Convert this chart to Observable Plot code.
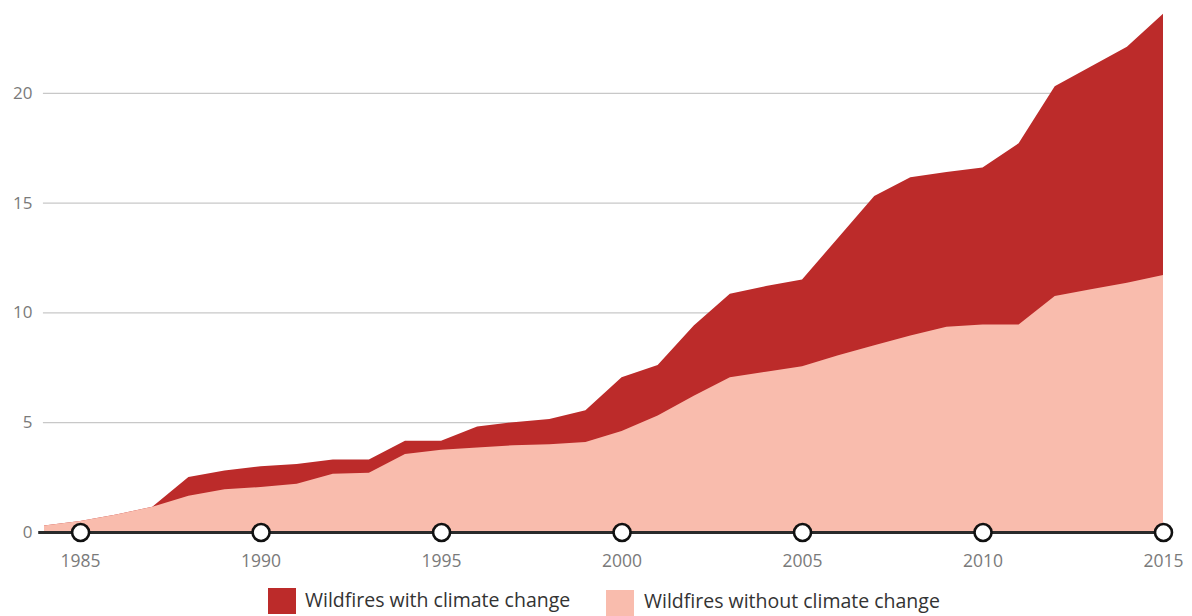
<!DOCTYPE html>
<html>
<head>
<meta charset="utf-8">
<script src="https://cdn.jsdelivr.net/npm/d3@7"></script>
<script src="https://cdn.jsdelivr.net/npm/@observablehq/plot@0.6"></script>
<style>
  html, body { margin: 0; padding: 0; background: #fff; }
  #wrap { position: relative; width: 1192px; height: 616px; overflow: hidden; font-family: "Open Sans", sans-serif; }
  .sw { position: absolute; width: 28px; height: 26px; }
  .lt { position: absolute; font-size: 19.5px; color: #333; white-space: nowrap; line-height: 19px; }
</style>
</head>
<body>
<div id="wrap">
  <div id="chart"></div>
  <div class="sw" style="left:268px; top:588px; background:#BC2B2A;"></div>
  <div class="lt" style="left:305px; top:590px;">Wildfires with climate change</div>
  <div class="sw" style="left:606px; top:590px; background:#F9BCAD;"></div>
  <div class="lt" style="left:644px; top:591px;">Wildfires without climate change</div>
</div>
<script>
const years = [1984,1985,1986,1987,1988,1989,1990,1991,1992,1993,1994,1995,1996,1997,1998,1999,2000,2001,2002,2003,2004,2005,2006,2007,2008,2009,2010,2011,2012,2013,2014,2015];
const withoutClimate = [0.3,0.5,0.8,1.15,1.65,1.95,2.05,2.2,2.65,2.7,3.55,3.75,3.85,3.95,4.0,4.1,4.6,5.3,6.2,7.05,7.3,7.55,8.05,8.5,8.95,9.35,9.45,9.45,10.75,11.05,11.35,11.7];
const withClimate = [0.3,0.5,0.8,1.15,2.5,2.8,3.0,3.1,3.3,3.3,4.15,4.15,4.8,5.0,5.15,5.55,7.05,7.6,9.4,10.85,11.2,11.5,13.4,15.3,16.15,16.4,16.6,17.7,20.3,21.2,22.1,23.6];
const xTicks = [1985,1990,1995,2000,2005,2010,2015];
const yTicks = [0,5,10,15,20];
const gridTicks = [5,10,15,20];

const data = years.map((y, i) => ({year: y, without: withoutClimate[i], with: withClimate[i]}));
const x0 = years[0], x1 = years[years.length - 1];

const chart = Plot.plot({
  width: 1192,
  height: 584,
  marginLeft: 44,
  marginRight: 29,
  marginTop: 5,
  marginBottom: 52,
  x: {domain: [x0, x1]},
  y: {domain: [0, 24]},
  style: {fontFamily: "'Open Sans', sans-serif", background: "#fff"},
  marks: [
    Plot.ruleY(gridTicks, {x1: x0 - 0.03, x2: x1, stroke: "#c8c8c8", strokeWidth: 1.3}),
    Plot.areaY(data, {x: "year", y: "with", fill: "#BC2B2A"}),
    Plot.areaY(data, {x: "year", y: "without", fill: "#F9BCAD"}),
    Plot.ruleY([0], {x1: x0 - 0.16, x2: x1, stroke: "#2a2a2a", strokeWidth: 3}),
    Plot.dot(xTicks, {x: d => d, y: 0, r: 8.5, fill: "#fff", stroke: "#111", strokeWidth: 2.6}),
    Plot.axisX({ticks: xTicks, tickSize: 0, tickPadding: 22, tickFormat: d => String(d), fontSize: 17.5, fill: "#7a7a7a", label: null}),
    Plot.axisY({ticks: yTicks, tickSize: 0, tickPadding: 12, fontSize: 17, fill: "#7a7a7a", label: null})
  ]
});
document.getElementById("chart").appendChild(chart);
</script>
</body>
</html>
